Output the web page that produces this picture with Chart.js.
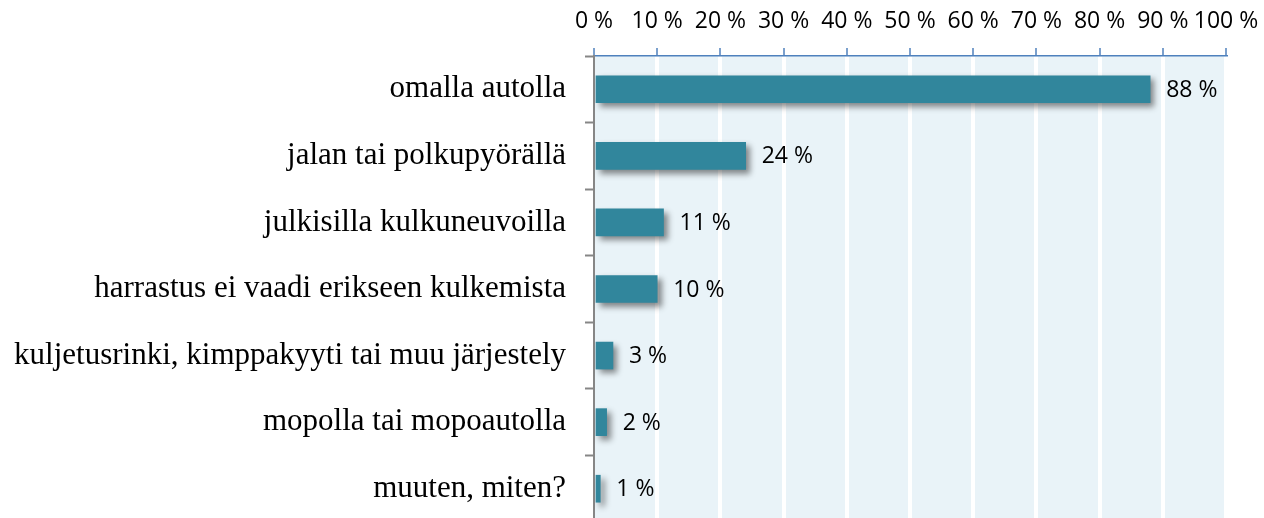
<html>
<head>
<script src="https://cdn.jsdelivr.net/npm/chart.js@4.4.0/dist/chart.umd.min.js"></script>
<style>
body { margin: 0; overflow: hidden; background: #fff; }
</style>
</head>
<body>
<canvas id="canvas" width="1264" height="522"></canvas>
<script>
// kulkutapa harrastukseen
var categories = ['omalla autolla', 'jalan tai polkupyörällä', 'julkisilla kulkuneuvoilla',
  'harrastus ei vaadi erikseen kulkemista', 'kuljetusrinki, kimppakyyti tai muu järjestely',
  'mopolla tai mopoautolla', 'muuten, miten?'];
var values = [88, 24, 11, 10, 3, 2, 1];
var xTicks = [0, 10, 20, 30, 40, 50, 60, 70, 80, 90, 100];

var plotBg = {
  id: 'plotBg',
  beforeDraw: function(chart) {
    var a = chart.chartArea, c = chart.ctx;
    c.save();
    c.fillStyle = '#E9F3F8';
    c.fillRect(a.left, a.top, a.right - a.left, a.bottom - a.top);
    c.restore();
  }
};

var barShadow = {
  id: 'barShadow',
  beforeDatasetDraw: function(chart) {
    var c = chart.ctx;
    c.save();
    c.shadowColor = 'rgba(0,0,0,0.45)';
    c.shadowBlur = 6;
    c.shadowOffsetX = 4;
    c.shadowOffsetY = 4;
  },
  afterDatasetDraw: function(chart) {
    chart.ctx.restore();
  }
};

var valueLabels = {
  id: 'valueLabels',
  afterDatasetsDraw: function(chart) {
    var c = chart.ctx;
    var meta = chart.getDatasetMeta(0);
    c.save();
    c.font = '23px "Open Sans"';
    c.fillStyle = '#000';
    c.textAlign = 'left';
    c.textBaseline = 'middle';
    meta.data.forEach(function(bar, i) {
      c.fillText(values[i] + ' %', bar.x + 16, bar.y + 1);
    });
    c.restore();
  }
};

var ctx = document.getElementById('canvas').getContext('2d');
var chart = new Chart(ctx, {
  type: 'bar',
  data: {
    labels: categories,
    datasets: [{
      data: values,
      backgroundColor: '#31869C',
      borderWidth: 0,
      barThickness: 27
    }]
  },
  options: {
    indexAxis: 'y',
    responsive: false,
    animation: false,
    layout: { padding: { left: 0, right: 38, top: 0, bottom: 0 } },
    plugins: { legend: { display: false }, tooltip: { enabled: false } },
    scales: {
      x: {
        position: 'top',
        min: 0,
        max: 100,
        afterBuildTicks: function(scale) {
          scale.ticks = xTicks.map(function(v) { return { value: v }; });
        },
        afterFit: function(scale) {
          scale.height = 56;
          scale.paddingLeft = 0;
          scale.paddingRight = 0;
        },
        ticks: {
          padding: 13,
          color: '#000',
          autoSkip: false,
          maxRotation: 0,
          minRotation: 0,
          font: { family: '"Open Sans"', size: 23 },
          callback: function(v) { return v + ' %'; }
        },
        grid: {
          color: function(ctx) { return ctx.index === 0 ? 'rgba(0,0,0,0)' : '#ffffff'; },
          lineWidth: 4,
          tickColor: '#4F81BD',
          tickWidth: 1.5,
          tickLength: 8
        },
        border: { display: true, color: '#4F81BD', width: 1.5 }
      },
      y: {
        afterFit: function(scale) {
          scale.width = 594;
          scale.paddingTop = 0;
          scale.paddingBottom = 0;
        },
        ticks: {
          padding: 19,
          color: '#000',
          font: { family: '"Liberation Serif"', size: 31 }
        },
        grid: {
          offset: true,
          drawOnChartArea: false,
          tickColor: '#868686',
          tickWidth: 2,
          tickLength: 9
        },
        border: { display: true, color: '#868686', width: 2 }
      }
    }
  },
  plugins: [plotBg, barShadow, valueLabels]
});
</script>
</body>
</html>
